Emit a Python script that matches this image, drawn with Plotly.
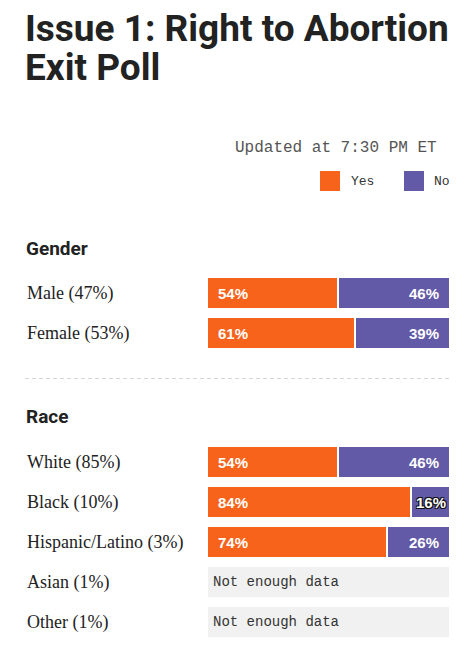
import plotly.graph_objects as go

# ---------------- data ----------------
gender_groups = ["Male (47%)", "Female (53%)"]
gender_yes = [54, 61]
gender_no = [46, 39]

race_groups = ["White (85%)", "Black (10%)", "Hispanic/Latino (3%)", "Asian (1%)", "Other (1%)"]
race_yes = [54, 84, 74, None, None]
race_no = [46, 16, 26, None, None]

title_lines = ["Issue 1: Right to Abortion", "Exit Poll"]
updated_text = "Updated at 7:30 PM ET"
series_names = ["Yes", "No"]
section_titles = ["Gender", "Race"]
no_data_text = "Not enough data"

# ---------------- style ----------------
W, H = 474, 666
YES_C = "#F8631C"
NO_C = "#625AA7"
GRAY_C = "#F1F1F1"
HEAD = "Roboto, Liberation Sans, sans-serif"
SERIF = "Liberation Serif, serif"
MONO = "Liberation Mono, DejaVu Sans Mono, monospace"
SANS = "Liberation Sans, Arial, sans-serif"


def px_x(p):
    return p / W


def px_y(p):
    return 1 - p / H


BAR_L, BAR_R = 207, 450
xdom = [px_x(BAR_L), px_x(BAR_R)]
SLOT = 40
g_top = 273
r_top = 442
g_dom = [px_y(g_top + SLOT * len(gender_groups)), px_y(g_top)]
r_dom = [px_y(r_top + SLOT * len(race_groups)), px_y(r_top)]

fig = go.Figure()
annotations = []
shapes = []


def add_section(groups, yes, no, xa, ya):
    fig.add_trace(go.Bar(
        y=groups, x=yes, orientation="h", name=series_names[0],
        marker=dict(color=YES_C, line=dict(color="white", width=2)),
        width=0.8, xaxis=xa, yaxis=ya, showlegend=False, hoverinfo="skip"))
    fig.add_trace(go.Bar(
        y=groups, x=no, orientation="h", name=series_names[1],
        marker=dict(color=NO_C, line=dict(color="white", width=2)),
        width=0.8, xaxis=xa, yaxis=ya, showlegend=False, hoverinfo="skip"))
    missing = [g for g, v in zip(groups, yes) if v is None]
    if missing:
        fig.add_trace(go.Bar(
            y=missing, x=[100] * len(missing), orientation="h", name="n/a",
            marker=dict(color=GRAY_C, line=dict(color="white", width=2)),
            width=0.8, xaxis=xa, yaxis=ya, showlegend=False, hoverinfo="skip"))
    yref = ya
    xref = xa
    for g, vy, vn in zip(groups, yes, no):
        annotations.append(dict(
            x=px_x(25), xref="paper", y=g, yref=yref, text=g, showarrow=False,
            xanchor="left", yanchor="middle", font=dict(family=SERIF, size=18, color="#222")))
        if vy is None:
            annotations.append(dict(
                x=0, xref=xref, y=g, yref=yref, text=no_data_text, showarrow=False,
                xanchor="left", yanchor="middle", xshift=4,
                font=dict(family=MONO, size=14, color="#333")))
            continue
        annotations.append(dict(
            x=0, xref=xref, y=g, yref=yref, text=f"{vy}%", showarrow=False,
            xanchor="left", yanchor="middle", xshift=9,
            font=dict(family=SANS, size=15, color="white", weight="bold")))
        narrow = vn * (BAR_R - BAR_L) / 100 < 50
        f = dict(family=SANS, size=15, color="white", weight="bold")
        if narrow:
            f["shadow"] = "-1px -1px 0 #111, 1px -1px 0 #111, -1px 1px 0 #111, 1px 1px 0 #111"
        annotations.append(dict(
            x=100, xref=xref, y=g, yref=yref, text=f"{vn}%", showarrow=False,
            xanchor="right", yanchor="middle", xshift=-2 if narrow else -9,
            font=f))


add_section(gender_groups, gender_yes, gender_no, "x", "y")
add_section(race_groups, race_yes, race_no, "x2", "y2")

# titles
for line, yy in zip(title_lines, [28, 67]):
    annotations.append(dict(x=px_x(23), y=px_y(yy), xref="paper", yref="paper", text=line,
                            showarrow=False, xanchor="left", yanchor="middle",
                            font=dict(family=HEAD, size=37, color="#222", weight="bold")))
annotations.append(dict(x=px_x(439), y=px_y(148), xref="paper", yref="paper", text=updated_text,
                        showarrow=False, xanchor="right", yanchor="middle",
                        font=dict(family=MONO, size=16, color="#555")))
# legend
for (sx, tx, col, name) in [(320, 349, YES_C, series_names[0]), (404, 432, NO_C, series_names[1])]:
    shapes.append(dict(type="rect", xref="paper", yref="paper", x0=px_x(sx), x1=px_x(sx + 20),
                       y0=px_y(191), y1=px_y(171), fillcolor=col, line=dict(width=0)))
    annotations.append(dict(x=px_x(tx), y=px_y(181), xref="paper", yref="paper", text=name,
                            showarrow=False, xanchor="left", yanchor="middle",
                            font=dict(family=MONO, size=13, color="#333")))
# section headers
for txt, yy in [(section_titles[0], 248), (section_titles[1], 416)]:
    annotations.append(dict(x=px_x(24), y=px_y(yy), xref="paper", yref="paper", text=txt,
                            showarrow=False, xanchor="left", yanchor="middle",
                            font=dict(family=HEAD, size=19, color="#222", weight="bold")))
# dashed separator
shapes.append(dict(type="line", xref="paper", yref="paper", x0=px_x(25), x1=px_x(450),
                   y0=px_y(378.5), y1=px_y(378.5), line=dict(color="#D5D5D5", width=1, dash="4px,3px")))

axis_x = dict(range=[0, 100], domain=xdom, visible=False, fixedrange=True)
fig.update_layout(
    width=W, height=H, margin=dict(l=0, r=0, t=0, b=0),
    paper_bgcolor="white", plot_bgcolor="white",
    barmode="stack", showlegend=False,
    xaxis=dict(axis_x, anchor="y"),
    xaxis2=dict(axis_x, anchor="y2"),
    yaxis=dict(domain=g_dom, range=[len(gender_groups) - 0.5, -0.5], visible=False,
               type="category", categoryorder="array", categoryarray=gender_groups, anchor="x"),
    yaxis2=dict(domain=r_dom, range=[len(race_groups) - 0.5, -0.5], visible=False,
                type="category", categoryorder="array", categoryarray=race_groups, anchor="x2"),
    annotations=annotations, shapes=shapes,
)

fig.write_html("out.html")
